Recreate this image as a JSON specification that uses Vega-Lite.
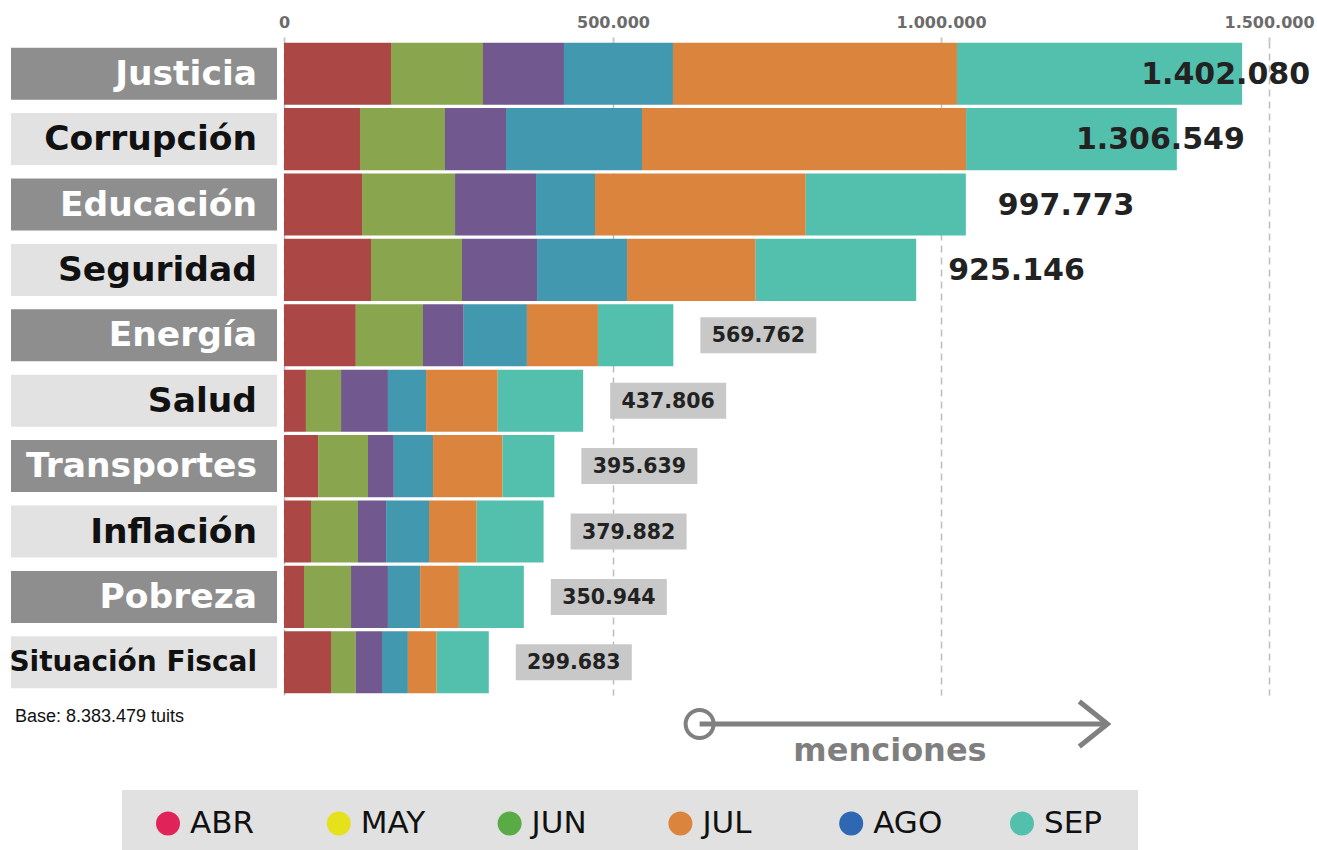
{
  "$schema": "https://vega.github.io/schema/vega-lite/v6.json",
  "padding": {"left": 9, "top": 14, "right": 0, "bottom": 0},
  "background": "white",
  "config": {
    "view": {"stroke": null},
    "font": "DejaVu Sans",
    "locale": {"number": {"decimal": ",", "thousands": ".", "grouping": [3], "currency": ["", ""]}}
  },
  "datasets": {
    "meses": [
      {"tema": "Justicia", "mes": "ABR", "m": 4, "valor": 156600},
      {"tema": "Justicia", "mes": "MAY", "m": 5, "valor": 134600},
      {"tema": "Justicia", "mes": "JUN", "m": 6, "valor": 118500},
      {"tema": "Justicia", "mes": "JUL", "m": 7, "valor": 159500},
      {"tema": "Justicia", "mes": "AGO", "m": 8, "valor": 415600},
      {"tema": "Justicia", "mes": "SEP", "m": 9, "valor": 417280},
      {"tema": "Corrupción", "mes": "ABR", "m": 4, "valor": 111200},
      {"tema": "Corrupción", "mes": "MAY", "m": 5, "valor": 124400},
      {"tema": "Corrupción", "mes": "JUN", "m": 6, "valor": 89300},
      {"tema": "Corrupción", "mes": "JUL", "m": 7, "valor": 199000},
      {"tema": "Corrupción", "mes": "AGO", "m": 8, "valor": 474200},
      {"tema": "Corrupción", "mes": "SEP", "m": 9, "valor": 308449},
      {"tema": "Educación", "mes": "ABR", "m": 4, "valor": 114200},
      {"tema": "Educación", "mes": "MAY", "m": 5, "valor": 136100},
      {"tema": "Educación", "mes": "JUN", "m": 6, "valor": 118500},
      {"tema": "Educación", "mes": "JUL", "m": 7, "valor": 86300},
      {"tema": "Educación", "mes": "AGO", "m": 8, "valor": 308400},
      {"tema": "Educación", "mes": "SEP", "m": 9, "valor": 234273},
      {"tema": "Seguridad", "mes": "ABR", "m": 4, "valor": 127300},
      {"tema": "Seguridad", "mes": "MAY", "m": 5, "valor": 133200},
      {"tema": "Seguridad", "mes": "JUN", "m": 6, "valor": 109800},
      {"tema": "Seguridad", "mes": "JUL", "m": 7, "valor": 131700},
      {"tema": "Seguridad", "mes": "AGO", "m": 8, "valor": 188200},
      {"tema": "Seguridad", "mes": "SEP", "m": 9, "valor": 234946},
      {"tema": "Energía", "mes": "ABR", "m": 4, "valor": 105100},
      {"tema": "Energía", "mes": "MAY", "m": 5, "valor": 98300},
      {"tema": "Energía", "mes": "JUN", "m": 6, "valor": 59600},
      {"tema": "Energía", "mes": "JUL", "m": 7, "valor": 92500},
      {"tema": "Energía", "mes": "AGO", "m": 8, "valor": 103900},
      {"tema": "Energía", "mes": "SEP", "m": 9, "valor": 110362},
      {"tema": "Salud", "mes": "ABR", "m": 4, "valor": 32100},
      {"tema": "Salud", "mes": "MAY", "m": 5, "valor": 51400},
      {"tema": "Salud", "mes": "JUN", "m": 6, "valor": 68600},
      {"tema": "Salud", "mes": "JUL", "m": 7, "valor": 55800},
      {"tema": "Salud", "mes": "AGO", "m": 8, "valor": 104900},
      {"tema": "Salud", "mes": "SEP", "m": 9, "valor": 125006},
      {"tema": "Transportes", "mes": "ABR", "m": 4, "valor": 49900},
      {"tema": "Transportes", "mes": "MAY", "m": 5, "valor": 73000},
      {"tema": "Transportes", "mes": "JUN", "m": 6, "valor": 37800},
      {"tema": "Transportes", "mes": "JUL", "m": 7, "valor": 57400},
      {"tema": "Transportes", "mes": "AGO", "m": 8, "valor": 101700},
      {"tema": "Transportes", "mes": "SEP", "m": 9, "valor": 75839},
      {"tema": "Inflación", "mes": "ABR", "m": 4, "valor": 39500},
      {"tema": "Inflación", "mes": "MAY", "m": 5, "valor": 68800},
      {"tema": "Inflación", "mes": "JUN", "m": 6, "valor": 41100},
      {"tema": "Inflación", "mes": "JUL", "m": 7, "valor": 62800},
      {"tema": "Inflación", "mes": "AGO", "m": 8, "valor": 69800},
      {"tema": "Inflación", "mes": "SEP", "m": 9, "valor": 97882},
      {"tema": "Pobreza", "mes": "ABR", "m": 4, "valor": 29300},
      {"tema": "Pobreza", "mes": "MAY", "m": 5, "valor": 68800},
      {"tema": "Pobreza", "mes": "JUN", "m": 6, "valor": 54000},
      {"tema": "Pobreza", "mes": "JUL", "m": 7, "valor": 47100},
      {"tema": "Pobreza", "mes": "AGO", "m": 8, "valor": 56800},
      {"tema": "Pobreza", "mes": "SEP", "m": 9, "valor": 94944},
      {"tema": "Situación Fiscal", "mes": "ABR", "m": 4, "valor": 68800},
      {"tema": "Situación Fiscal", "mes": "MAY", "m": 5, "valor": 36300},
      {"tema": "Situación Fiscal", "mes": "JUN", "m": 6, "valor": 38300},
      {"tema": "Situación Fiscal", "mes": "JUL", "m": 7, "valor": 37900},
      {"tema": "Situación Fiscal", "mes": "AGO", "m": 8, "valor": 42100},
      {"tema": "Situación Fiscal", "mes": "SEP", "m": 9, "valor": 76283}
    ],
    "totales": [
      {"tema": "Justicia", "rank": 1, "total": 1402080},
      {"tema": "Corrupción", "rank": 2, "total": 1306549},
      {"tema": "Educación", "rank": 3, "total": 997773},
      {"tema": "Seguridad", "rank": 4, "total": 925146},
      {"tema": "Energía", "rank": 5, "total": 569762},
      {"tema": "Salud", "rank": 6, "total": 437806},
      {"tema": "Transportes", "rank": 7, "total": 395639},
      {"tema": "Inflación", "rank": 8, "total": 379882},
      {"tema": "Pobreza", "rank": 9, "total": 350944},
      {"tema": "Situación Fiscal", "rank": 10, "total": 299683}
    ],
    "leyenda": [
      {"mes": "ABR"}, {"mes": "MAY"}, {"mes": "JUN"}, {"mes": "JUL"}, {"mes": "AGO"}, {"mes": "SEP"}
    ],
    "flecha": [
      {"desde": 608200, "hasta": 1205000, "centro": 886800, "etiqueta": "menciones"}
    ],
    "base": [
      {"t": "Base:  8.383.479 tuits"}
    ]
  },
  "resolve": {"scale": {"color": "independent", "x": "independent", "y": "independent"}},
  "spacing": 22,
  "vconcat": [
    {
      "spacing": -4,
      "resolve": {"scale": {"color": "independent", "x": "independent", "y": "independent"}},
      "vconcat": [
        {
          "bounds": "flush",
          "spacing": 7,
          "resolve": {"scale": {"color": "independent", "x": "independent", "y": "independent"}},
          "hconcat": [
            {
              "width": 266,
              "height": 654,
              "data": {"name": "totales"},
              "encoding": {
                "y": {
                  "field": "tema", "type": "nominal",
                  "sort": ["Justicia", "Corrupción", "Educación", "Seguridad", "Energía", "Salud", "Transportes", "Inflación", "Pobreza", "Situación Fiscal"],
                  "scale": {"paddingInner": 0.05, "paddingOuter": 0.025},
                  "axis": null
                }
              },
              "layer": [
                {
                  "mark": {"type": "bar", "orient": "horizontal", "size": 52},
                  "encoding": {
                    "x": {"value": 0},
                    "x2": {"value": "width"},
                    "color": {"condition": {"test": "datum.rank % 2 === 1", "value": "#8e8e8e"}, "value": "#e2e2e2"}
                  }
                },
                {
                  "mark": {"type": "text", "align": "right", "baseline": "middle", "dx": -20, "dy": 1, "font": "DejaVu Sans", "fontWeight": "bold"},
                  "encoding": {
                    "x": {"value": "width"},
                    "text": {"field": "tema"},
                    "size": {"condition": {"test": "datum.tema === 'Situación Fiscal'", "value": 28}, "value": 34.5},
                    "color": {"condition": {"test": "datum.rank % 2 === 1", "value": "#ffffff"}, "value": "#111111"}
                  }
                }
              ]
            },
            {
              "width": 1010,
              "height": 654,
              "encoding": {
                "y": {
                  "field": "tema", "type": "nominal",
                  "sort": ["Justicia", "Corrupción", "Educación", "Seguridad", "Energía", "Salud", "Transportes", "Inflación", "Pobreza", "Situación Fiscal"],
                  "scale": {"paddingInner": 0.05, "paddingOuter": 0.025},
                  "axis": null
                }
              },
              "layer": [
                {
                  "data": {"name": "meses"},
                  "mark": {"type": "bar"},
                  "encoding": {
                    "x": {
                      "field": "valor", "type": "quantitative", "stack": "zero",
                      "scale": {"domain": [0, 1478000], "nice": false},
                      "axis": {
                        "orient": "top", "title": null,
                        "values": [0, 481500, 961500, 1441500],
                        "labelExpr": "datum.value < 1 ? '0' : datum.value < 700000 ? '500.000' : datum.value < 1200000 ? '1.000.000' : '1.500.000'",
                        "domain": false,
                        "ticks": true, "tickSize": 4, "tickColor": "#c8c8c8", "tickWidth": 2,
                        "grid": true, "gridDash": [7, 5], "gridColor": "#bdbdbd", "gridWidth": 1.5,
                        "labelFont": "DejaVu Sans", "labelFontWeight": "bold", "labelFontSize": 16,
                        "labelColor": "#6b6b6b", "labelPadding": 7, "labelFlush": false, "labelBound": false
                      }
                    },
                    "color": {
                      "field": "mes", "type": "nominal",
                      "scale": {
                        "domain": ["ABR", "MAY", "JUN", "JUL", "AGO", "SEP"],
                        "range": ["#ab4846", "#89a54e", "#71588f", "#4298af", "#db843d", "#52c0ad"]
                      },
                      "legend": null
                    },
                    "order": {"field": "m", "type": "quantitative"}
                  }
                },
                {
                  "data": {"name": "totales"},
                  "transform": [{"filter": "datum.rank >= 5"}],
                  "mark": {"type": "bar", "orient": "horizontal", "size": 36, "color": "#c8c8c8", "xOffset": 27, "x2Offset": 143},
                  "encoding": {
                    "x": {"field": "total", "type": "quantitative"},
                    "x2": {"field": "total"}
                  }
                },
                {
                  "data": {"name": "totales"},
                  "transform": [{"filter": "datum.rank >= 5"}],
                  "mark": {"type": "text", "align": "center", "baseline": "middle", "dx": 85, "dy": 1, "fontSize": 20.5, "fontWeight": "bold", "color": "#222222"},
                  "encoding": {
                    "x": {"field": "total", "type": "quantitative"},
                    "text": {"field": "total", "type": "quantitative", "format": ",d"}
                  }
                },
                {
                  "data": {"name": "totales"},
                  "transform": [{"filter": "datum.rank <= 2"}],
                  "mark": {"type": "text", "align": "right", "baseline": "middle", "dx": 68, "dy": 1, "fontSize": 30, "fontWeight": "bold", "color": "#222222"},
                  "encoding": {
                    "x": {"field": "total", "type": "quantitative"},
                    "text": {"field": "total", "type": "quantitative", "format": ",d"}
                  }
                },
                {
                  "data": {"name": "totales"},
                  "transform": [{"filter": "datum.rank >= 3 && datum.rank <= 4"}],
                  "mark": {"type": "text", "align": "left", "baseline": "middle", "dx": 32, "dy": 1, "fontSize": 30, "fontWeight": "bold", "color": "#222222"},
                  "encoding": {
                    "x": {"field": "total", "type": "quantitative"},
                    "text": {"field": "total", "type": "quantitative", "format": ",d"}
                  }
                }
              ]
            }
          ]
        },
        {
          "bounds": "flush",
          "spacing": 7,
          "resolve": {"scale": {"color": "independent", "x": "independent", "y": "independent"}},
          "hconcat": [
            {
              "width": 266,
              "height": 70,
              "data": {"name": "base"},
              "mark": {"type": "text", "align": "left", "baseline": "middle", "font": "Liberation Sans", "fontSize": 18, "color": "#111111", "dx": 4, "dy": -15},
              "encoding": {
                "x": {"value": 0},
                "text": {"field": "t"}
              }
            },
            {
              "width": 1010,
              "height": 70,
              "data": {"name": "flecha"},
              "encoding": {
                "y": {"datum": 0, "type": "quantitative", "scale": {"domain": [-1.59, 1]}, "axis": null}
              },
              "layer": [
                {
                  "mark": {"type": "rule", "strokeWidth": 5, "color": "#808080"},
                  "encoding": {
                    "x": {"field": "desde", "type": "quantitative", "scale": {"domain": [0, 1478000], "nice": false}, "axis": null},
                    "x2": {"field": "hasta"}
                  }
                },
                {
                  "mark": {"type": "point", "shape": "circle", "filled": false, "size": 784, "strokeWidth": 4, "color": "#808080", "opacity": 1},
                  "encoding": {
                    "x": {"field": "desde", "type": "quantitative"}
                  }
                },
                {
                  "mark": {"type": "point", "shape": "M -1.25 -1 L 0 0 L -1.25 1", "filled": false, "size": 2025, "strokeWidth": 5, "color": "#808080", "opacity": 1, "strokeJoin": "miter"},
                  "encoding": {
                    "x": {"field": "hasta", "type": "quantitative"}
                  }
                },
                {
                  "mark": {"type": "text", "align": "center", "baseline": "alphabetic", "dy": 37, "fontSize": 32, "fontWeight": "bold", "color": "#7f7f7f"},
                  "encoding": {
                    "x": {"field": "centro", "type": "quantitative"},
                    "text": {"field": "etiqueta"}
                  }
                }
              ]
            }
          ]
        }
      ]
    },
    {
      "bounds": "flush",
      "spacing": 7,
      "resolve": {"scale": {"color": "independent", "x": "independent", "y": "independent"}},
      "hconcat": [
        {
          "width": 104,
          "height": 61,
          "data": {"name": "base"},
          "mark": {"type": "text"},
          "encoding": {"text": {"value": ""}}
        },
        {
          "width": 1016,
          "height": 61,
          "view": {"fill": "#e1e1e1", "stroke": null},
          "data": {"name": "leyenda"},
          "encoding": {
            "x": {
              "field": "mes", "type": "nominal",
              "sort": ["ABR", "MAY", "JUN", "JUL", "AGO", "SEP"],
              "scale": {"type": "point", "range": [46, 900], "padding": 0},
              "axis": null
            }
          },
          "layer": [
            {
              "mark": {"type": "point", "filled": true, "size": 576, "opacity": 1, "yOffset": 3},
              "encoding": {
                "color": {
                  "field": "mes", "type": "nominal",
                  "scale": {
                    "domain": ["ABR", "MAY", "JUN", "JUL", "AGO", "SEP"],
                    "range": ["#e0245a", "#e5e11b", "#5aab46", "#db843d", "#2f68b2", "#52c0ad"]
                  },
                  "legend": null
                }
              }
            },
            {
              "mark": {"type": "text", "align": "left", "baseline": "middle", "dx": 22, "dy": 3, "fontSize": 31, "font": "DejaVu Sans", "color": "#111111"},
              "encoding": {
                "text": {"field": "mes"}
              }
            }
          ]
        }
      ]
    }
  ]
}
